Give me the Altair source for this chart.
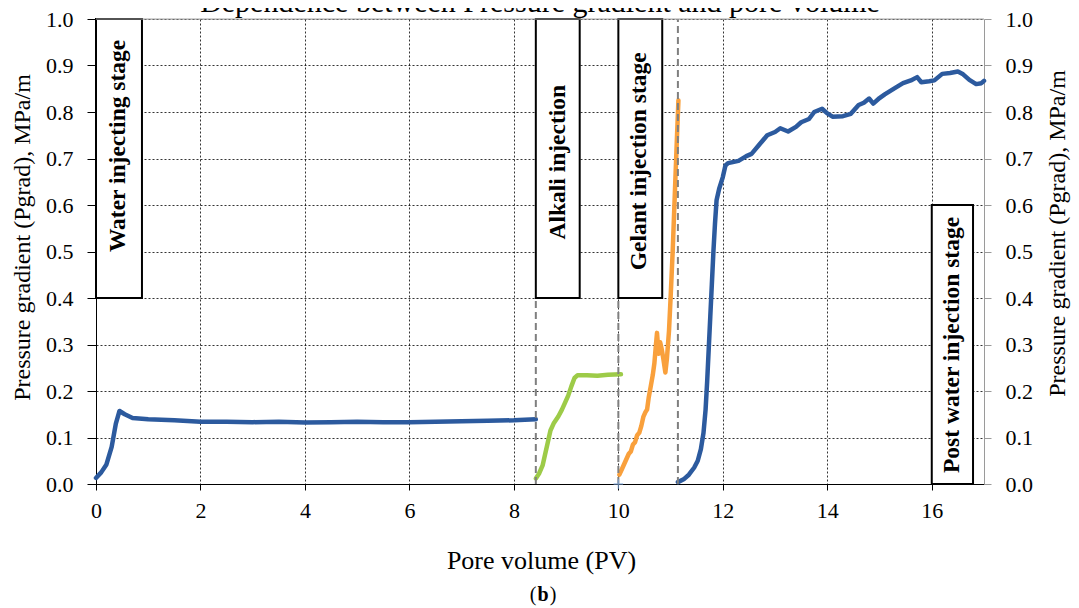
import altair as alt
import pandas as pd

# ---------------- data ----------------
water_pv = [0.0, 0.1, 0.2, 0.3, 0.38, 0.45, 0.55, 0.7, 1.0, 1.5, 2.0, 2.5, 3.0, 3.5,
            4.0, 4.5, 5.0, 5.5, 6.0, 6.5, 7.0, 7.5, 8.0, 8.42]
water_pg = [0.013, 0.025, 0.042, 0.08, 0.13, 0.157, 0.15, 0.142, 0.139, 0.137, 0.134,
            0.134, 0.133, 0.134, 0.132, 0.133, 0.134, 0.133, 0.133, 0.134, 0.135,
            0.136, 0.137, 0.139]

alkali_pv = [8.42, 8.48, 8.55, 8.6, 8.65, 8.7, 8.76, 8.85, 8.92, 8.98, 9.04, 9.1,
             9.16, 9.22, 9.4, 9.6, 9.8, 10.05]
alkali_pg = [0.012, 0.022, 0.04, 0.065, 0.09, 0.115, 0.13, 0.145, 0.16, 0.175, 0.19,
             0.21, 0.228, 0.234, 0.234, 0.233, 0.235, 0.236]

gelant_pv = [10.02, 10.08, 10.14, 10.2, 10.24, 10.28, 10.32, 10.36, 10.4, 10.44, 10.48,
             10.52, 10.55, 10.58, 10.62, 10.66, 10.69, 10.72, 10.74, 10.77, 10.8, 10.83,
             10.86, 10.9, 10.93, 10.97, 11.0, 11.04, 11.08, 11.12, 11.15]
gelant_pg = [0.02, 0.035, 0.05, 0.065, 0.07, 0.085, 0.09, 0.105, 0.11, 0.125, 0.145,
             0.155, 0.16, 0.185, 0.21, 0.235, 0.26, 0.3, 0.325, 0.28, 0.305, 0.29,
             0.27, 0.24, 0.27, 0.33, 0.4, 0.5, 0.62, 0.74, 0.825]

post_pv = [11.14, 11.25, 11.35, 11.45, 11.52, 11.58, 11.63, 11.67, 11.7, 11.73, 11.76,
           11.79, 11.82, 11.85, 11.88, 11.93, 12.0, 12.05, 12.1, 12.3, 12.45, 12.55,
           12.7, 12.85, 13.0, 13.1, 13.25, 13.4, 13.5, 13.65, 13.75, 13.9, 14.0, 14.1,
           14.3, 14.45, 14.6, 14.7, 14.8, 14.88, 15.0, 15.1, 15.3, 15.45, 15.6, 15.72,
           15.8, 15.95, 16.05, 16.2, 16.35, 16.5, 16.6, 16.72, 16.85, 16.95, 17.0]
post_pg = [0.004, 0.01, 0.02, 0.035, 0.05, 0.075, 0.11, 0.16, 0.22, 0.29, 0.36, 0.43,
           0.5, 0.56, 0.61, 0.635, 0.66, 0.685, 0.69, 0.695, 0.705, 0.71, 0.73, 0.75,
           0.757, 0.765, 0.758, 0.768, 0.778, 0.785, 0.8, 0.807, 0.797, 0.79, 0.791,
           0.796, 0.815, 0.82, 0.829, 0.818, 0.83, 0.838, 0.852, 0.862, 0.868, 0.875,
           0.864, 0.866, 0.868, 0.882, 0.884, 0.887, 0.881, 0.869, 0.86, 0.862, 0.867]

stage_labels = ["Water injecting stage", "Alkali injection", "Gelant injection stage",
                "Post water injection stage"]
box_pv0 = [0.0, 8.42, 10.0, 16.0]
box_pv1 = [0.88, 9.26, 10.84, 16.79]
box_pg0 = [0.4, 0.4, 0.4, 0.0]
box_pg1 = [1.0, 1.0, 1.0, 0.6]
label_pv = [0.42, 8.84, 10.40, 16.38]
label_pg = [0.727, 0.692, 0.694, 0.299]

divider_pv = [8.42, 10.0, 11.14]
divider_top = [0.4, 0.4, 1.0]

y_ticks = [0.0, 0.1, 0.2, 0.3, 0.4, 0.5, 0.6, 0.7, 0.8, 0.9, 1.0]
x_ticks = [0, 2, 4, 6, 8, 10, 12, 14, 16]

# ---------------- tables ----------------
series_names = ["water", "alkali", "gelant", "post"]
frames = []
for name, xs, ys in zip(series_names,
                        [water_pv, alkali_pv, gelant_pv, post_pv],
                        [water_pg, alkali_pg, gelant_pg, post_pg]):
    frames.append(pd.DataFrame({"pv": xs, "pg": ys, "series": name}))
lines_df = pd.concat(frames, ignore_index=True)

boxes_df = pd.DataFrame({"x0": box_pv0, "x1": box_pv1, "y0": box_pg0, "y1": box_pg1,
                         "label": stage_labels, "lx": label_pv, "ly": label_pg})
div_df = pd.DataFrame({"pv": divider_pv, "top": divider_top, "bottom": [0.0] * 3})

FONT = "Liberation Serif"
xscale = alt.Scale(domain=[0, 17], nice=False, zero=False)
yscale = alt.Scale(domain=[0, 1], nice=False, zero=False)

x_axis = alt.Axis(values=x_ticks, format="d", grid=True, gridColor="black",
                  gridDash=[2, 2], gridWidth=0.8, domainColor="black", tickColor="black",
                  tickSize=6, labelPadding=10, labelFont=FONT, labelFontSize=22,
                  labelColor="black", labelFlush=False, labelBound=False,
                  title="Pore volume (PV)", titleFont=FONT, titleFontSize=26,
                  titleFontWeight="normal", titleColor="black", titleX=445, titleY=76,
                  titleBaseline="middle", titleAlign="center")
left_axis = alt.Axis(orient="left", values=y_ticks, format=".1f", grid=True,
                     gridColor="black", gridDash=[2, 2], gridWidth=0.8,
                     domainColor="black", tickColor="black", tickSize=9, labelPadding=14,
                     labelFont=FONT, labelFontSize=22, labelColor="black",
                     labelFlush=False, labelOverlap=False,
                     title="Pressure gradient (Pgrad), MPa/m", titleFont=FONT,
                     titleFontSize=24, titleFontWeight="normal", titleColor="black",
                     titleAngle=270, titleX=-74, titleY=218, titleAlign="center",
                     titleBaseline="middle")
right_axis = alt.Axis(orient="right", values=y_ticks, format=".1f", grid=False,
                      domainColor="#9a9a9a", tickColor="#9a9a9a", tickSize=7,
                      labelPadding=14, labelFont=FONT, labelFontSize=22,
                      labelColor="black", labelFlush=False, labelOverlap=False,
                      title="Pressure gradient (Pgrad), MPa/m", titleFont=FONT,
                      titleFontSize=24, titleFontWeight="normal", titleColor="black",
                      titleAngle=270, titleX=73, titleY=214, titleAlign="center",
                      titleBaseline="middle")


def X(field):
    return alt.X(field, scale=xscale, axis=x_axis)


def Y(field):
    return alt.Y(field, scale=yscale, axis=left_axis)


lines = alt.Chart(lines_df).mark_line(strokeWidth=4.5, strokeCap="round",
                                      strokeJoin="round").encode(
    x=X("pv:Q"),
    y=Y("pg:Q"),
    color=alt.Color("series:N", legend=None,
                    scale=alt.Scale(domain=series_names,
                                    range=["#2C5A9E", "#9DCB48", "#F9A03C", "#2C5A9E"])),
    detail="series:N",
    order=alt.Order("pv:Q"),
)

dividers = alt.Chart(div_df).mark_rule(color="#7f7f7f", strokeWidth=2,
                                       strokeDash=[7, 4]).encode(
    x=X("pv:Q"),
    y=Y("bottom:Q"),
    y2="top:Q",
)

boxes = alt.Chart(boxes_df).mark_rect(fill="white", stroke="black",
                                      strokeWidth=2).encode(
    x=X("x0:Q"), x2="x1:Q",
    y=Y("y0:Q"), y2="y1:Q",
)

box_text = alt.Chart(boxes_df).mark_text(angle=270, font=FONT, fontSize=23.5,
                                         fontWeight="bold", color="black",
                                         align="center", baseline="middle").encode(
    x=X("lx:Q"),
    y=Y("ly:Q"),
    text="label:N",
)

marker = alt.Chart(pd.DataFrame({"pv": [10.0], "pg": [0.0]})).mark_point(
    shape="M-1,0L1,0M0,-1L0,1", filled=False, stroke="#7FA7D9", strokeWidth=1.5,
    size=90).encode(
    x=X("pv:Q"),
    y=Y("pg:Q"),
)

one = pd.DataFrame({"t": [1.0]})
title_mark = alt.Chart(one).mark_text(
    text="Dependence between Pressure gradient and pore volume", font=FONT,
    fontSize=30, color="black", align="center", baseline="alphabetic").encode(
    x=alt.value(444), y=alt.value(-7))

b_open = alt.Chart(one).mark_text(text="(", font=FONT, fontSize=20, color="black",
                                  align="center", baseline="middle").encode(
    x=alt.value(437), y=alt.value(576))
b_mid = alt.Chart(one).mark_text(text="b", font=FONT, fontSize=20, fontWeight="bold",
                                 color="black", align="center",
                                 baseline="middle").encode(
    x=alt.value(447), y=alt.value(576))
b_close = alt.Chart(one).mark_text(text=")", font=FONT, fontSize=20, color="black",
                                   align="center", baseline="middle").encode(
    x=alt.value(457), y=alt.value(576))

main = alt.layer(lines, dividers, boxes, box_text, marker, title_mark,
                 b_open, b_mid, b_close)

right = alt.Chart(one).mark_rule(color="#a6a6a6", strokeWidth=1.2).encode(
    y=alt.Y("t:Q", scale=yscale, axis=right_axis))

chart = alt.layer(main, right).resolve_scale(y="independent").properties(
    width=888, height=465,
    autosize=alt.AutoSizeParams(type="none"),
    padding={"left": 88, "top": 11, "right": 87, "bottom": 124},
).configure_view(stroke=None).configure(background="white")

chart.save("out.html", embed_options={"renderer": "svg", "actions": False})
